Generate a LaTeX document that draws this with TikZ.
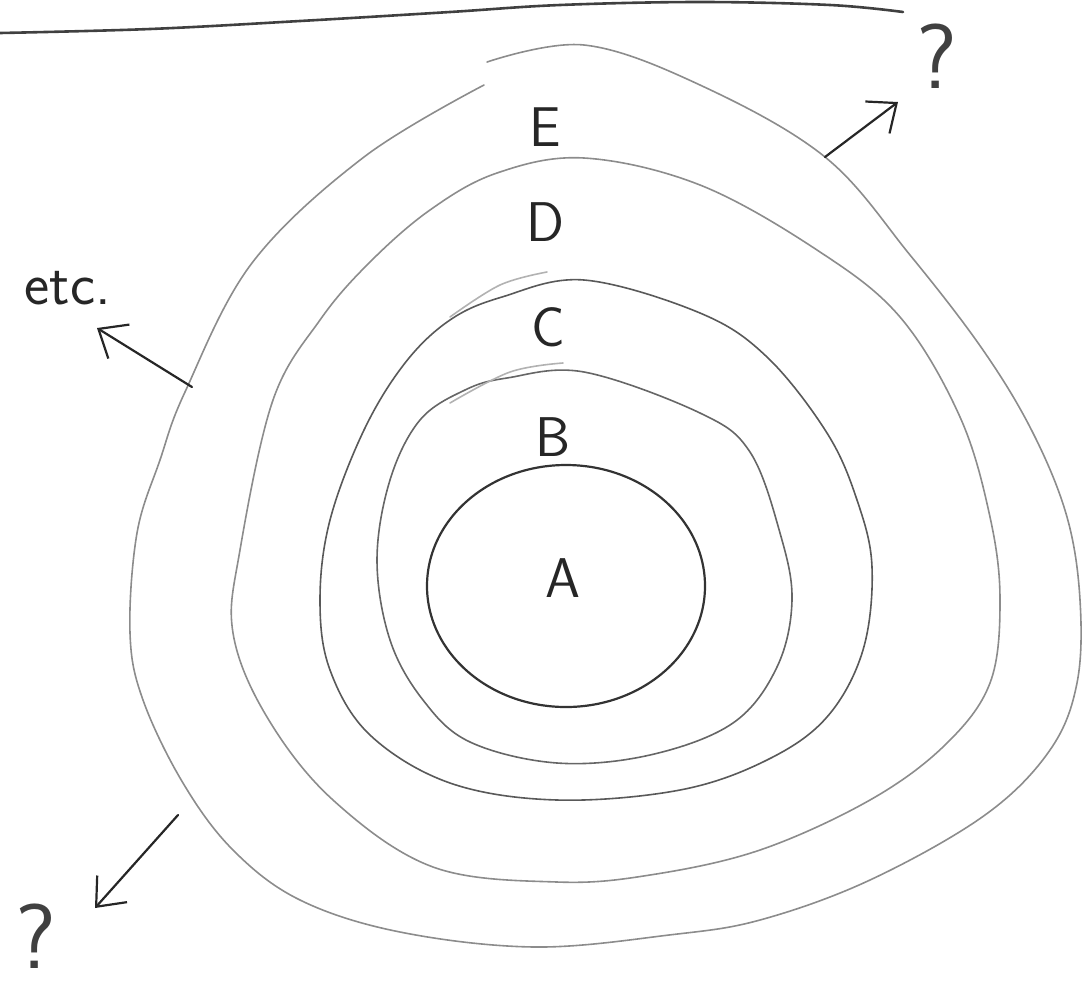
\documentclass[tikz,border=0pt]{standalone}
\usepackage{tikz}
\usetikzlibrary{arrows.meta}

\begin{document}
\begin{tikzpicture}[x=1pt, y=-1pt,
    lapis/.style={line width=1.6pt, line cap=round, line join=round, draw=black!45},
    seta/.style={line width=2.2pt, line cap=round, draw=black!85, -{Straight Barb[length=24pt, width=40pt, line width=2.2pt]}},
    letra/.style={font=\fontsize{56}{56}\selectfont\sffamily, text=black!85, inner sep=0pt},
    interrog/.style={font=\fontsize{92}{92}\selectfont\sffamily, text=black!75, inner sep=0pt}]
    \useasboundingbox (0,0) rectangle (1089,997);

    % Linha do topo
    \draw[lapis, draw=black!75, line width=2.6pt] plot[smooth, tension=0.6] coordinates {(0,33) (150,29) (300,21) (450,12) (560,5) (700,2) (830,5) (903,12)};

    % Contorno A
    \draw[lapis, draw=black!80, line width=2.2pt] (566,586) ellipse [x radius=139, y radius=121];

    % Contorno B
    \draw[lapis, draw=black!60] plot[smooth cycle, tension=0.6] coordinates {(507,378) (584,372) (700,413) (750,452) (780,533) (792,600) (777,667) (733,723) (650,755) (557,763) (470,742) (423,700) (390,640) (377,560) (390,480) (420,420) (465,390)};
    \draw[lapis, draw=black!30] plot[smooth, tension=0.6] coordinates {(563,363) (510,372) (450,403)};

    % Contorno C
    \draw[lapis, draw=black!65] plot[smooth cycle, tension=0.6] coordinates {(502,297) (584,280) (700,313) (767,357) (827,433) (857,500) (872,567) (863,650) (827,717) (767,760) (680,790) (557,800) (450,783) (370,735) (330,670) (320,600) (330,520) (364,430) (405,363) (450,320)};
    \draw[lapis, draw=black!30] plot[smooth, tension=0.6] coordinates {(547,272) (500,285) (450,317)};

    % Contorno D
    \draw[lapis] plot[smooth cycle, tension=0.6] coordinates {(497,173) (584,158) (700,185) (817,250) (900,317) (960,417) (990,517) (1000,600) (990,683) (945,745) (870,800) (760,850) (650,875) (557,882) (433,867) (333,800) (267,717) (233,633) (240,550) (273,400) (320,320) (369,263) (430,210)};

    % Contorno E
    \draw[lapis] plot[smooth, tension=0.6] coordinates {(487,62) (584,45) (700,85) (825,157) (910,255) (983,350) (1033,433) (1067,517) (1080,600) (1077,683) (1050,750) (985,815) (870,880) (760,920) (669,935) (535,947) (400,932) (300,900) (233,850) (183,783) (143,700) (130,633) (137,533) (160,460) (185,392) (252,263) (364,157) (484,85)};

    % Letras
    \node[letra] (E) at (545,127) {E};
    \node[letra] (D) at (545,222) {D};
    \node[letra] (C) at (548,327) {C};
    \node[letra] (B) at (553,437) {B};
    \node[letra] (A) at (563,578) {A};

    % Rotulos externos
    \node[letra, font=\fontsize{60}{60}\selectfont\sffamily] (etc) at (68,288) {etc.};
    \node[interrog] (qNE) at (937,56) {?};
    \node[interrog] (qSW) at (36,936) {?};

    % Setas
    \coordinate (caudaNE) at (825,157);
    \coordinate (pontaNE) at (898,102);
    \coordinate (caudaW) at (192,387);
    \coordinate (pontaW) at (97,328);
    \coordinate (caudaSW) at (178,815);
    \coordinate (pontaSW) at (95,908);
    \draw[seta] (caudaNE) -- (pontaNE);
    \draw[seta] (caudaW) -- (pontaW);
    \draw[seta] (caudaSW) -- (pontaSW);
\end{tikzpicture}
\end{document}
